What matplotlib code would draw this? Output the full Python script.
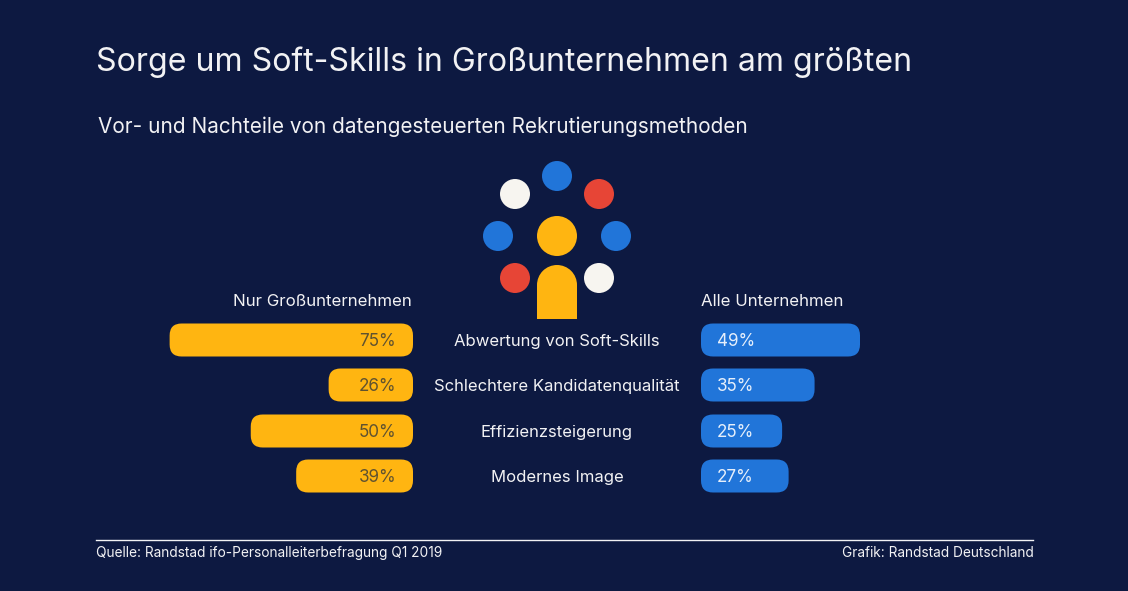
import matplotlib
matplotlib.use("Agg")
import matplotlib.pyplot as plt
from matplotlib.patches import Circle, FancyBboxPatch, Wedge, Rectangle

# -----------------------------
# Data
# -----------------------------
CATEGORIES = ["Abwertung von Soft-Skills", "Schlechtere Kandidatenqualität", "Effizienzsteigerung", "Modernes Image"]
GROSS_LABELS = [75, 26, 50, 39]
ALLE_LABELS = [49, 35, 25, 27]
# the last yellow bar is drawn shorter in the original than its label says
GROSS_BARS = [75, 26, 50, 36]
ALLE_BARS = [49, 35, 25, 27]

BG = "#0d1941"
YELLOW = "#ffb511"
BLUE = "#2175d9"
RED = "#e74536"
WHITE = "#f7f5f0"
TEXT = "#f2f2f4"
DARK = "#5f5230"

PX_PER_PCT = 3.245
LEFT_X = 413
RIGHT_X = 701
ROW_Y = [340, 385, 431, 476]
BAR_H = 33
RADIUS = 12

plt.rcParams["font.family"] = ["Inter", "DejaVu Sans"]

fig = plt.figure(figsize=(11.28, 5.91), dpi=100, facecolor=BG)
ax = fig.add_axes([0, 0, 1, 1])
ax.set_xlim(0, 1128)
ax.set_ylim(591, 0)
ax.axis("off")


def rounded_bar(x0, width, yc, color):
    ax.add_patch(FancyBboxPatch((x0 + RADIUS, yc - BAR_H / 2 + RADIUS), width - 2 * RADIUS, BAR_H - 2 * RADIUS,
                                boxstyle=f"round,pad={RADIUS},rounding_size={RADIUS}",
                                fc=color, ec="none"))


# Titel
ax.text(96, 62.5, "Sorge um Soft-Skills in Großunternehmen am größten", color=TEXT,
        fontsize=23.1, va="center", ha="left")
ax.text(98, 127, "Vor- und Nachteile von datengesteuerten Rekrutierungsmethoden", color=TEXT,
        fontsize=14.95, va="center", ha="left")

# Icon
dots = [(557, 176, BLUE), (515, 194, WHITE), (599, 194, RED), (498, 236, BLUE),
        (616, 236, BLUE), (515, 278, RED), (599, 278, WHITE)]
for cx, cy, col in dots:
    ax.add_patch(Circle((cx, cy), 15, fc=col, ec="none"))
ax.add_patch(Circle((557, 236), 20, fc=YELLOW, ec="none"))
ax.add_patch(Wedge((557, 285), 20, 180, 360, fc=YELLOW, ec="none"))
ax.add_patch(Rectangle((537, 285), 40, 34, fc=YELLOW, ec="none"))

# Spaltenkoepfe
ax.text(412, 302, "Nur Großunternehmen", color=TEXT, fontsize=12.15, ha="right", va="center")
ax.text(701, 302, "Alle Unternehmen", color=TEXT, fontsize=12.15, ha="left", va="center")

# Balken
for i, cat in enumerate(CATEGORIES):
    y = ROW_Y[i]
    w = GROSS_BARS[i] * PX_PER_PCT
    rounded_bar(LEFT_X - w, w, y, YELLOW)
    ax.text(396, y + 1.5, f"{GROSS_LABELS[i]}%", color=DARK, fontsize=12.3, ha="right", va="center")
    ax.text(557, y + 1.5, cat, color=TEXT, fontsize=12, ha="center", va="center")
    w = ALLE_BARS[i] * PX_PER_PCT
    rounded_bar(RIGHT_X, w, y, BLUE)
    ax.text(717, y + 1.5, f"{ALLE_LABELS[i]}%", color="#e6effb", fontsize=12.3, ha="left", va="center")

# Fusszeile
ax.plot([96, 1033], [540, 540], color=TEXT, lw=1)
ax.text(96, 553, "Quelle: Randstad ifo-Personalleiterbefragung Q1 2019", color=TEXT,
        fontsize=9.87, ha="left", va="center")
ax.text(1034, 553, "Grafik: Randstad Deutschland", color=TEXT, fontsize=9.87, ha="right", va="center")

fig.savefig("out.png", dpi=100, facecolor=BG)
